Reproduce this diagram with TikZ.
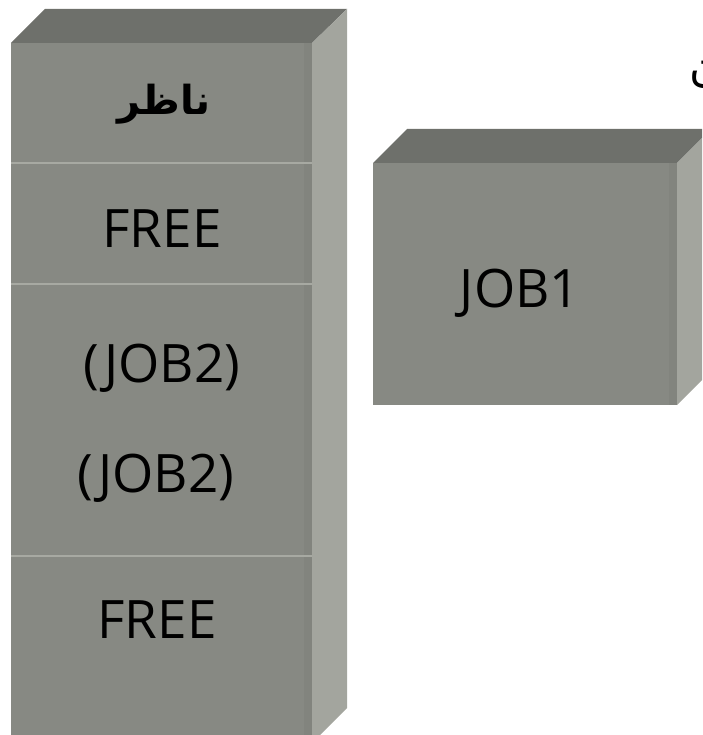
\documentclass[tikz,border=0pt]{standalone}
\usepackage{fontspec}
\setmainfont{Open Sans}
\newfontfamily\arabicfont[Script=Arabic]{DejaVu Sans}
\TeXXeTstate=1
\definecolor{frontgray}{HTML}{878983}
\definecolor{frontedge}{HTML}{82847E}
\definecolor{topgray}{HTML}{6E706B}
\definecolor{sidegray}{HTML}{A3A59E}
\definecolor{sepgray}{HTML}{A7A9A2}
\tikzset{
  front/.style={fill=frontgray},
  topface/.style={fill=topgray},
  sideface/.style={fill=sidegray},
  seprule/.style={draw=sepgray, line width=1.6pt},
  lbl/.style={anchor=base, inner sep=0pt, text=black, font=\fontsize{53}{60}\selectfont},
  arlbl/.style={anchor=base, inner sep=0pt, text=black, font=\arabicfont\bfseries\fontsize{40}{46}\selectfont}
}
\begin{document}
\begin{tikzpicture}[x=1pt,y=-1pt]
\useasboundingbox (0,0) rectangle (702,735);
\clip (0,0) rectangle (702,735);

% memory column: front, top and right faces
\fill[front] (11,43) rectangle (312,745);
\fill[frontedge] (304,43) rectangle (312,745);
\fill[topface] (11,43) -- (45,9) -- (347,9) -- (312,43) -- cycle;
\fill[sideface] (312,43) -- (347,9) -- (347,708) -- (312,743) -- cycle;

% partition boundaries
\coordinate (s1l) at (11,163);  \coordinate (s1r) at (312,163);
\coordinate (s2l) at (11,284);  \coordinate (s2r) at (312,284);
\coordinate (s3l) at (11,556);  \coordinate (s3r) at (312,556);
\draw[seprule] (s1l) -- (s1r);
\draw[seprule] (s2l) -- (s2r);
\draw[seprule] (s3l) -- (s3r);

% partition labels
\node[arlbl] (mon) at (164,115) {\beginR ناظر\endR};
\node[lbl] (free1) at (162,247) {FREE};
\node[lbl] (jobA) at (162,382) {(JOB2)};
\node[lbl] (jobB) at (156,492) {(JOB2)};
\node[lbl] (free2) at (157,638) {FREE};

% job waiting outside memory
\fill[front] (373,163) rectangle (677,405);
\fill[frontedge] (669,163) rectangle (677,405);
\fill[topface] (373,163) -- (407,129) -- (711,129) -- (677,163) -- cycle;
\fill[sideface] (677,163) -- (711,129) -- (711,371) -- (677,405) -- cycle;
\node[lbl] (job1) at (520,307) {JOB1};

% heading text running off the right edge
\node[anchor=base west, inner sep=0pt, font=\arabicfont\fontsize{44}{50}\selectfont] (head) at (689,82) {\beginR ن\endR};
\end{tikzpicture}
\end{document}
